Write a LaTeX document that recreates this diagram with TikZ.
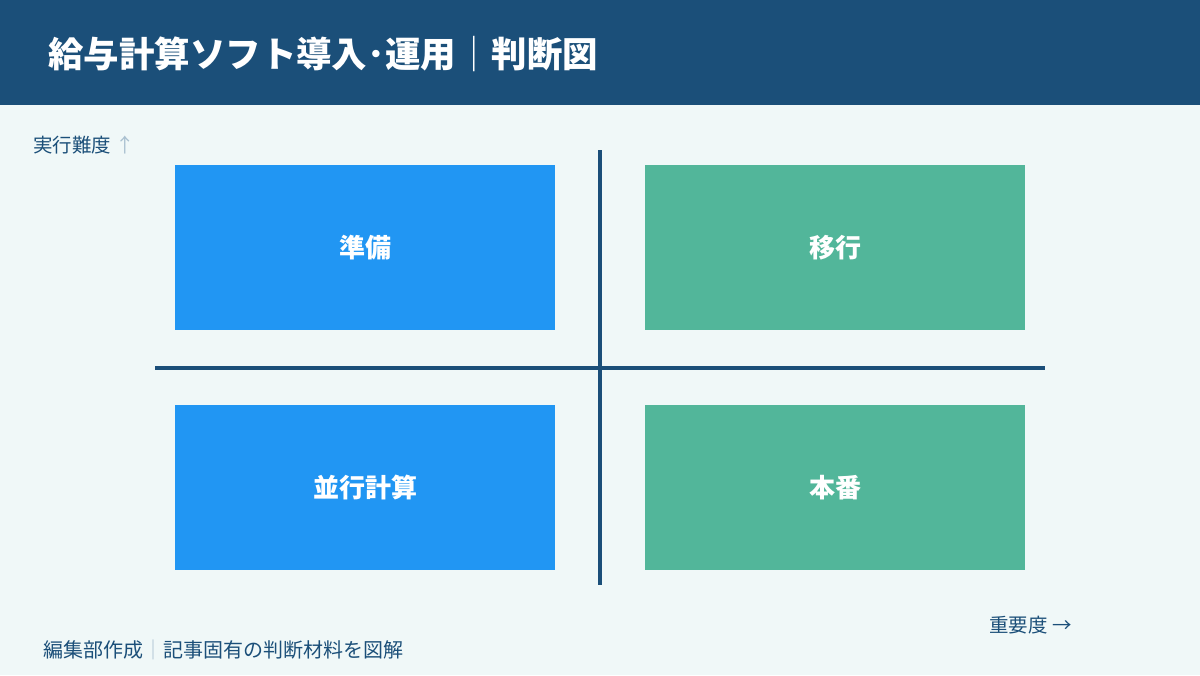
\documentclass[tikz,border=0pt]{standalone}
\usepackage{fontspec}
\setmainfont{Noto Sans CJK JP}
\definecolor{navy}{HTML}{1B4F79}
\definecolor{paper}{HTML}{F0F8F8}
\definecolor{bluebox}{HTML}{2196F3}
\definecolor{greenbox}{HTML}{52B69A}
\definecolor{faint}{HTML}{A9C0D0}
\begin{document}
\begin{tikzpicture}[x=0.75pt, y=-0.75pt,
  quad/.style={minimum width=380*0.75pt, minimum height=165*0.75pt, inner sep=0pt,
    text=white, font=\fontsize{19.5}{22}\selectfont\bfseries},
  axislabel/.style={text=navy, font=\fontsize{14.6}{17}\selectfont, inner sep=0pt},
  axisline/.style={navy, line width=3pt}]
\def\dx{175}
\def\dy{165}

% background and header
\fill[paper] (0,0) rectangle (1200,675);
\useasboundingbox (0,0) rectangle (1200,675);
\fill[navy] (0,0) rectangle (1200,105);
\node[anchor=west, text=white, inner sep=0pt, font=\fontsize{26.6}{30}\selectfont\bfseries] (title) at (48,54) {給与計算ソフト導入･運用{\mdseries｜}判断図};

% quadrants
\node[quad, fill=bluebox, anchor=north west] (prep) at (\dx, \dy) {準備};
\node[quad, fill=greenbox, anchor=north west] (move) at (\dx + 470, \dy) {移行};
\node[quad, fill=bluebox, anchor=north west] (para) at (\dx, \dy + 240) {並行計算};
\node[quad, fill=greenbox, anchor=north west] (live) at (\dx + 470, \dy + 240) {本番};

% axes
\coordinate (vtop) at (600,150);
\coordinate (vbot) at (600,585);
\coordinate (hleft) at (155,368);
\coordinate (hright) at (1045,368);
\draw[axisline] (vtop) -- (vbot);
\draw[axisline] (hleft) -- (hright);

\node[axislabel, anchor=west] (ylab) at (33,145) {実行難度 {\color{faint}↑}};
\node[axislabel, anchor=east] (xlab) at (1072,625) {重要度 →};

% footer
\node[axislabel, anchor=west, font=\fontsize{15}{18}\selectfont] (foot) at (43,650) {編集部作成{\color{faint}｜}記事固有の判断材料を図解};
\end{tikzpicture}
\end{document}
